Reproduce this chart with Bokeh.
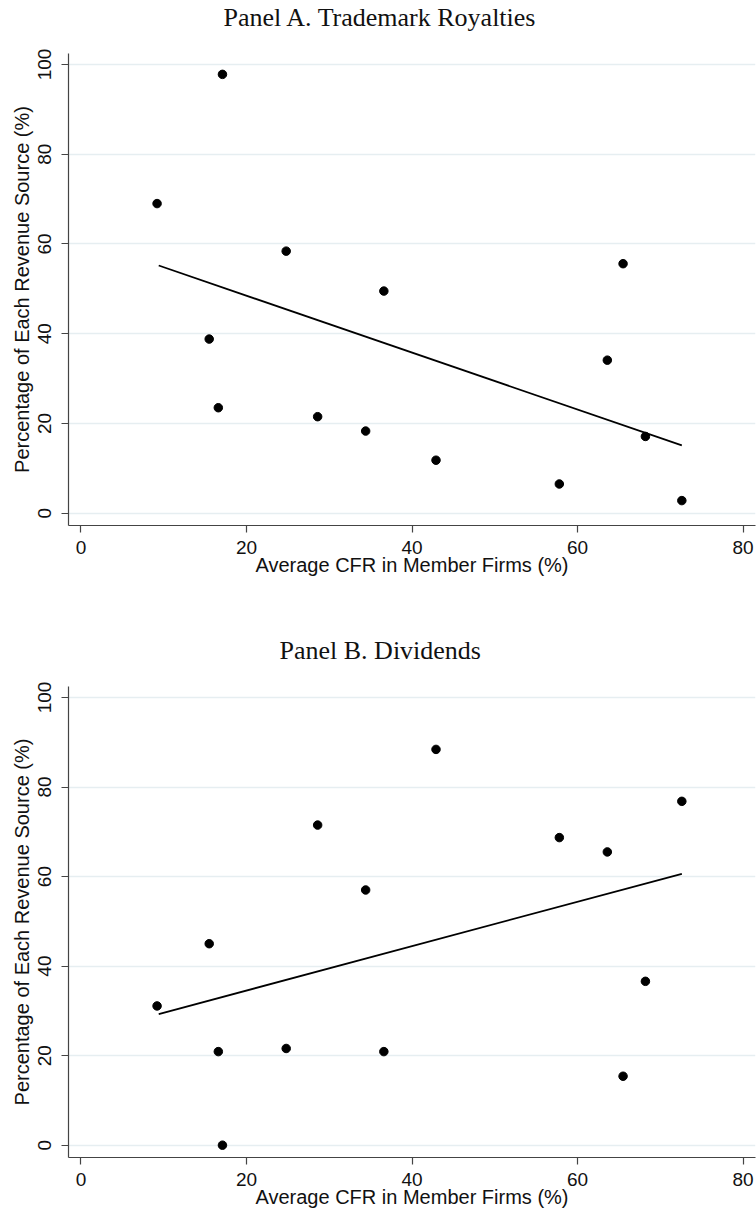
from bokeh.plotting import figure
from bokeh.layouts import column
from bokeh.models import Title, Range1d, FixedTicker
from bokeh.embed import file_html
from bokeh.resources import INLINE

# Average CFR in member firms (%) -- same firms in both panels
cfr = [9.2, 15.5, 16.6, 17.1, 24.8, 28.6, 34.4, 36.6, 42.9, 57.8, 63.6, 65.5, 68.2, 72.6]
# Panel A: trademark royalties share (%)
royalties = [69.0, 38.8, 23.5, 97.8, 58.4, 21.5, 18.3, 49.5, 11.8, 6.5, 34.1, 55.6, 17.1, 2.8]
# Panel B: dividends share (%)
dividends = [31.1, 45.0, 20.9, 0.0, 21.6, 71.5, 57.0, 20.9, 88.4, 68.7, 65.5, 15.4, 36.6, 76.8]

# Fitted lines (endpoints)
fit_x = [9.4, 72.6]
fit_a = [55.2, 15.1]
fit_b = [29.3, 60.6]

x_ticks = [0, 20, 40, 60, 80]
y_ticks = [0, 20, 40, 60, 80, 100]

titles = ["Panel A. Trademark Royalties", "Panel B. Dividends"]
title_offsets = [155, 211]

AXIS_COLOR = "#444444"
GRID_COLOR = "#E6EEF1"


def make_panel(title, offset, yvals, fit_y, height, bottom):
    p = figure(width=756, height=height, output_backend="svg", toolbar_location=None,
               x_range=Range1d(-1.5, 81.5), y_range=Range1d(-2.75, 102.45),
               min_border_left=68, min_border_right=1, min_border_top=53,
               min_border_bottom=bottom, title=None)
    p.outline_line_color = None
    p.background_fill_color = "white"
    p.border_fill_color = "white"

    # spacer between the title and the plot frame
    spacer = Title(text=" ", text_font_size="10px", standoff=9)
    p.add_layout(spacer, "above")
    t = Title(text=title, align="left", offset=offset, text_font="Liberation Serif",
              text_font_size="26px", text_font_style="normal", text_color="#111111",
              standoff=0)
    p.add_layout(t, "above")

    p.xgrid.grid_line_color = None
    p.ygrid.grid_line_color = GRID_COLOR
    p.ygrid.grid_line_width = 1.5
    p.ygrid.ticker = FixedTicker(ticks=y_ticks)

    for ax in (p.xaxis[0], p.yaxis[0]):
        ax.axis_line_color = AXIS_COLOR
        ax.axis_line_width = 1.2
        ax.major_tick_line_color = AXIS_COLOR
        ax.major_tick_line_width = 1.2
        ax.major_tick_out = 7
        ax.major_tick_in = 0
        ax.minor_tick_line_color = None
        ax.major_label_text_font = "Liberation Sans"
        ax.major_label_text_font_size = "19px"
        ax.major_label_text_color = "#111111"
        ax.axis_label_text_font = "Liberation Sans"
        ax.axis_label_text_font_size = "20px"
        ax.axis_label_text_font_style = "normal"
        ax.axis_label_text_color = "#111111"

    p.xaxis.ticker = FixedTicker(ticks=x_ticks)
    p.yaxis.ticker = FixedTicker(ticks=y_ticks)
    p.xaxis.axis_label = "Average CFR in Member Firms (%)"
    p.yaxis.axis_label = "Percentage of Each Revenue Source (%)"
    p.xaxis.major_label_standoff = 8
    p.xaxis.axis_label_standoff = -3
    p.yaxis.major_label_standoff = 10
    p.yaxis.axis_label_standoff = 3
    p.yaxis.major_label_orientation = "vertical"

    p.line(fit_x, fit_y, line_color="black", line_width=1.8)
    p.scatter(cfr, yvals, size=8.5, fill_color="black", line_color="black", marker="circle")
    return p


pa = make_panel(titles[0], title_offsets[0], royalties, fit_a, 633, 108)
pb = make_panel(titles[1], title_offsets[1], dividends, fit_b, 580, 56)

layout = column(pa, pb, spacing=0)
open("out.html", "w").write(file_html(layout, INLINE))
